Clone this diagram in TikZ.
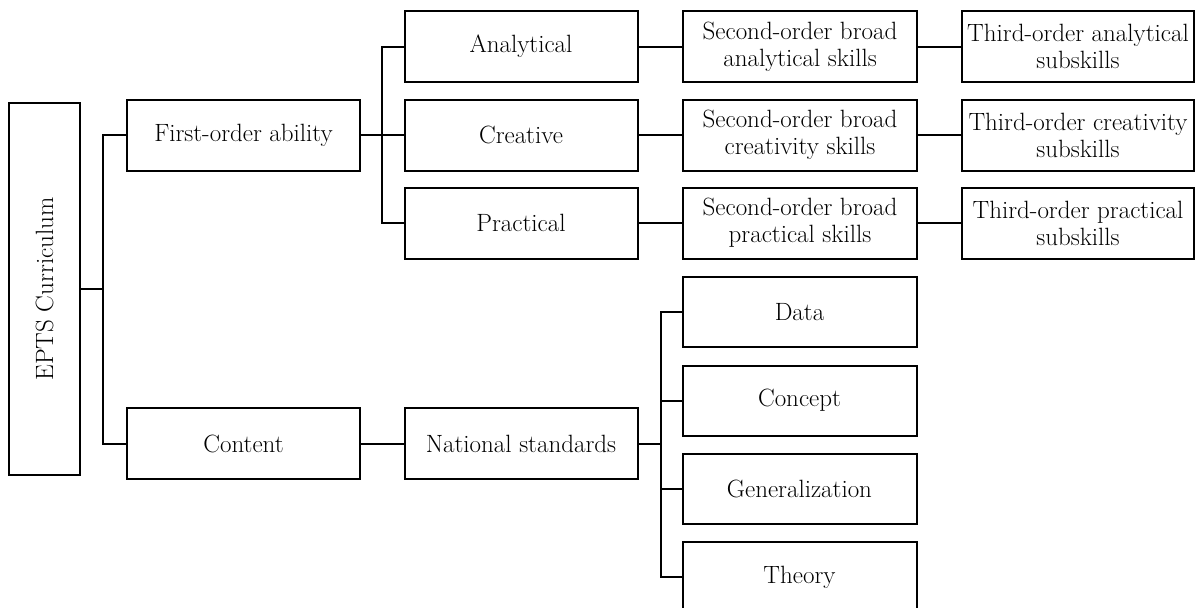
\documentclass[tikz,border=0pt]{standalone}
\usepackage{fontspec}
\begin{document}
\begin{tikzpicture}[x=1pt,y=-1pt,
  box/.style={draw=black,line width=2pt,minimum width=233pt,minimum height=71pt,inner sep=0pt,align=center,font=\fontsize{25}{27}\selectfont},
  link/.style={line width=2pt}]
\clip (0,0) rectangle (1195,608);
% root
\node[box,minimum width=71pt,minimum height=372pt] (epts) at (44.5,289) {};
\node[rotate=90,font=\fontsize{25}{27}\selectfont,inner sep=0pt] (eptstext) at (epts.center) {EPTS Curriculum};
% level 1
\node[box] (first) at (243.5,135) {First-order ability};
\node[box] (content) at (243.5,443.5) {Content};
% level 2
\node[box] (ana) at (521,46.5) {Analytical};
\node[box] (cre) at (521,135) {Creative};
\node[box] (prac) at (521,223) {Practical};
\node[box] (nat) at (521,443.5) {National standards};
% level 3
\node[box,minimum width=234pt] (s1) at (800,46.5) {Second-order broad\\analytical skills};
\node[box,minimum width=234pt] (s2) at (800,135) {Second-order broad\\creativity skills};
\node[box,minimum width=234pt] (s3) at (800,223) {Second-order broad\\practical skills};
\node[box,minimum width=234pt,minimum height=70pt] (data) at (799.5,312) {Data};
\node[box,minimum width=234pt,minimum height=70pt] (concept) at (799.5,400.5) {Concept};
\node[box,minimum width=234pt,minimum height=70pt] (gen) at (799.5,489) {Generalization};
\node[box,minimum width=234pt,minimum height=70pt] (theory) at (799.5,577) {Theory};
% level 4
\node[box,minimum width=232pt] (t1) at (1078,46.5) {Third-order analytical\\subskills};
\node[box,minimum width=232pt] (t2) at (1078,135) {Third-order creativity\\subskills};
\node[box,minimum width=232pt] (t3) at (1078,223) {Third-order practical\\subskills};
% bus points
\coordinate (b1) at (102.6,289);
\coordinate (b2) at (381.5,135);
\coordinate (b3) at (660.5,443.5);
% connectors
\draw[link] (epts.east) -- (b1);
\draw[link] (first.west) -| (b1) |- (content.west);
\draw[link] (first.east) -- (b2);
\draw[link] (ana.west) -| (b2) |- (prac.west);
\draw[link] (b2) -- (cre.west);
\draw[link] (ana.east) -- (s1.west);
\draw[link] (cre.east) -- (s2.west);
\draw[link] (prac.east) -- (s3.west);
\draw[link] (s1.east) -- (t1.west);
\draw[link] (s2.east) -- (t2.west);
\draw[link] (s3.east) -- (t3.west);
\draw[link] (content.east) -- (nat.west);
\draw[link] (nat.east) -- (b3);
\draw[link] (data.west) -| (b3) |- (theory.west);
\draw[link] (concept.west) -- (concept.west -| b3);
\draw[link] (gen.west) -- (gen.west -| b3);
\end{tikzpicture}
\end{document}
